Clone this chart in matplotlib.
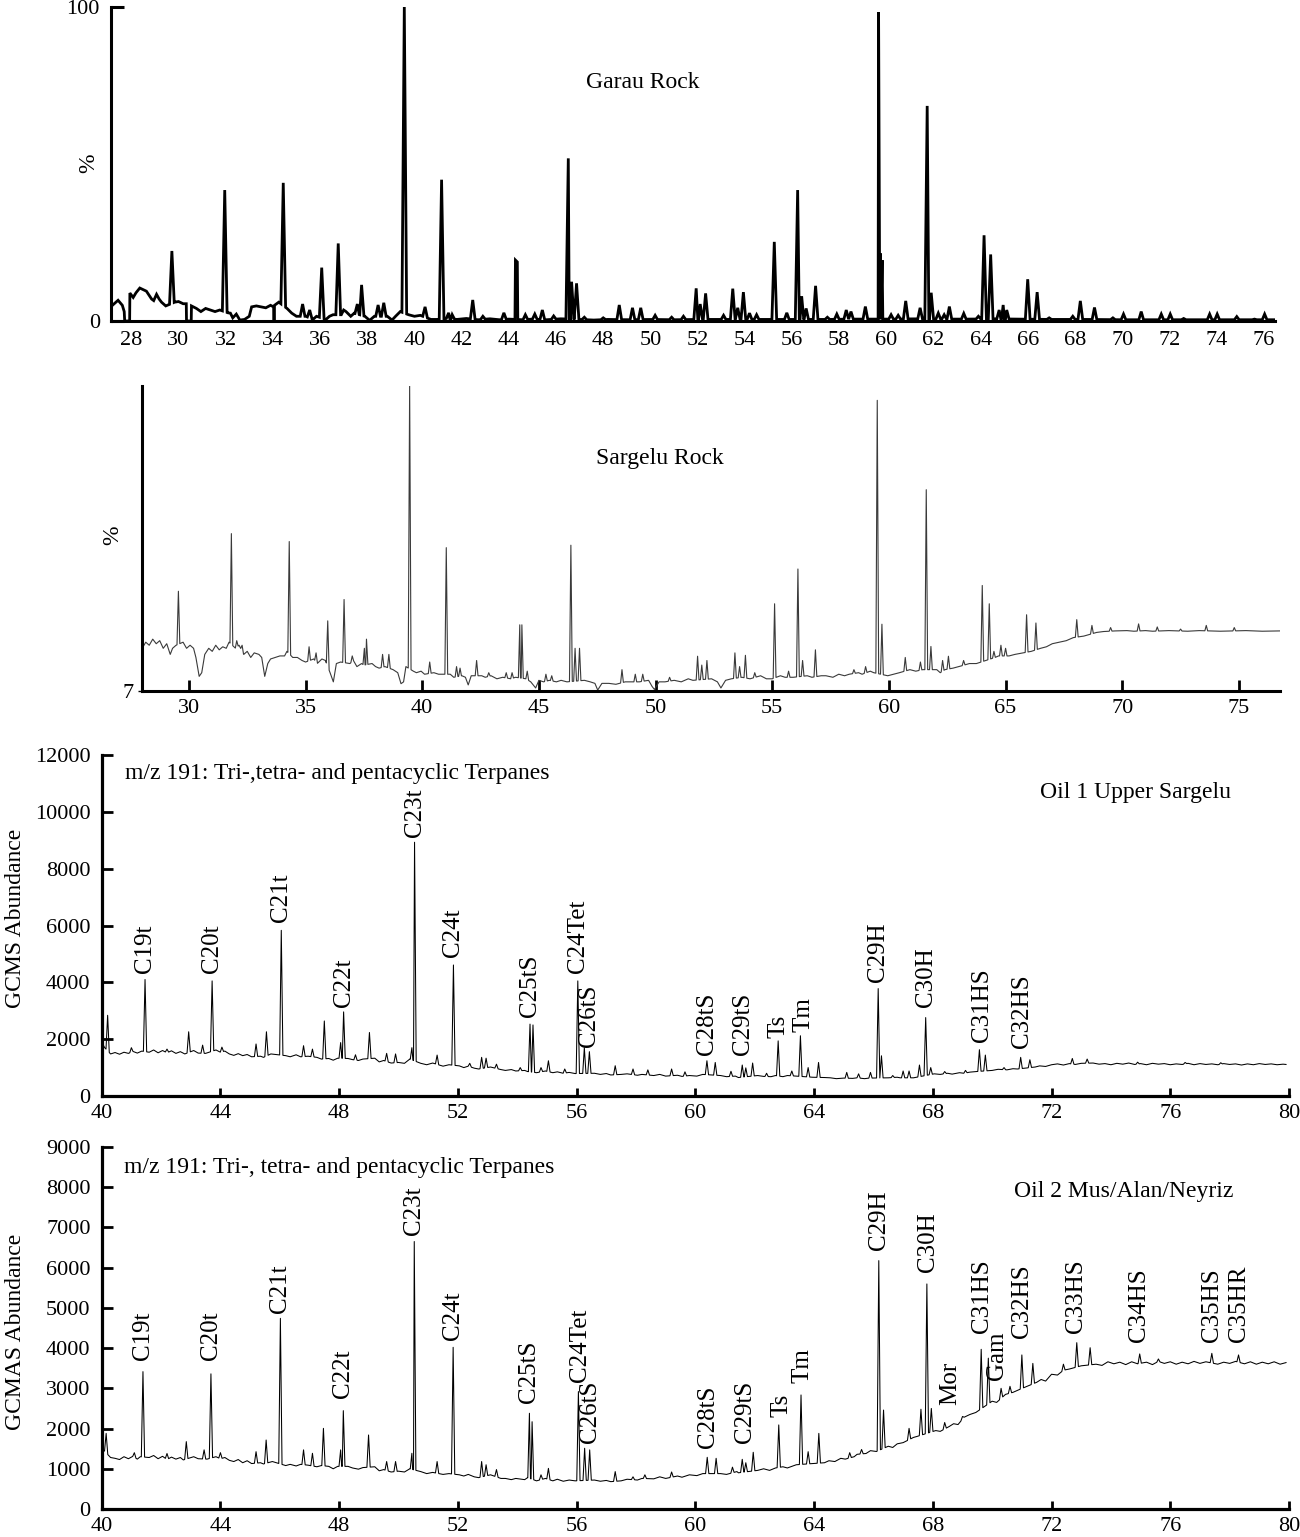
import numpy as np
import matplotlib
matplotlib.use("Agg")
import matplotlib.pyplot as plt

plt.rcParams['font.family'] = ['Liberation Serif', 'DejaVu Serif']
plt.rcParams['font.size'] = 16

# ---------------- Panel 1 : Garau Rock (relative %) ----------------
garau_base = [(27.14, 4.5), (27.2, 5), (27.44, 6.6), (27.62, 5), (27.7, 3), (27.72, 0), (27.93, 0),
              (27.94, 8.9), (28.08, 7.5), (28.2, 9), (28.36, 10.5), (28.5, 10), (28.64, 9.5), (28.86, 7),
              (28.95, 6.5), (29.07, 8.5), (29.18, 7), (29.28, 6), (29.46, 4.8), (29.84, 6), (30.0, 6.2),
              (30.2, 5.5), (30.33, 5.5), (30.34, 0), (30.54, 0), (30.55, 4.8), (30.76, 4), (30.95, 3),
              (31.15, 4), (31.35, 3.5), (31.55, 3), (31.75, 3.5), (32.1, 2.6), (32.3, 1.0), (32.45, 2.2),
              (32.6, 0.3), (32.8, 0.5), (33.0, 1.5), (33.1, 4.5), (33.3, 4.8), (33.5, 4.5), (33.7, 4.2),
              (33.9, 5), (34.03, 4.5), (34.05, 0.3), (34.07, 5), (34.25, 6), (34.6, 4), (34.8, 2.5),
              (35.0, 1.5), (35.4, 1.5), (35.7, 0.5), (35.85, 1.5), (36.25, 0.5), (36.4, 1.5), (36.55, 2),
              (36.95, 2), (37.1, 3), (37.3, 1.5), (37.45, 2.5), (37.9, 1.5), (38.1, 0.2), (38.3, 1.5),
              (38.85, 1.5), (39.05, 0.3), (39.2, 1.5), (39.4, 3), (39.75, 2), (40.0, 1.5), (40.25, 1.8),
              (40.7, 0.5), (41.0, 0.5), (41.35, 0.8), (41.8, 0.5), (42.2, 0.8), (42.7, 0.4), (43.2, 0.7),
              (43.6, 0.4), (44.0, 0.6), (44.6, 0.4), (45.0, 0.6), (45.6, 0.4), (46.2, 0.7), (47.0, 0.5),
              (47.6, 0.3), (48.2, 0.5), (49.0, 0.4), (50.0, 0.5), (51.0, 0.4), (52.0, 0.5), (53.0, 0.5),
              (54.5, 0.5), (55.5, 0.5), (57.5, 0.5), (58.5, 0.6), (59.4, 0.6), (60.5, 0.6), (61.2, 0.7),
              (62.2, 0.6), (63.5, 0.6), (64.6, 0.7), (65.5, 0.6), (67.0, 0.5), (68.5, 0.5), (70.0, 0.4),
              (72.0, 0.4), (74.0, 0.4), (76.47, 0.4)]
garau_peaks = [(29.72, 22.3), (31.96, 41.7), (32.2, 2.5), (34.44, 44.0), (35.26, 5.4), (35.56, 3.5),
               (36.07, 17.0), (36.77, 24.7), (37.0, 3.5), (37.58, 5.4), (37.76, 11.5), (38.46, 5.1),
               (38.7, 5.8), (39.57, 100.0), (40.45, 4.5), (41.15, 45.0), (41.45, 2.6), (41.6, 2.0),
               (42.47, 6.7), (42.9, 1.5), (43.79, 2.6), (44.28, 19.4), (44.36, 18.8), (44.7, 2.0),
               (45.1, 2.2), (45.42, 3.5), (45.9, 1.6), (46.52, 51.8), (46.66, 12.5), (46.87, 12.0),
               (47.2, 1.2), (48.0, 1.0), (48.68, 5.1), (49.24, 4.2), (49.59, 4.2), (50.2, 1.8),
               (50.9, 1.2), (51.4, 1.5), (51.94, 10.4), (52.11, 5.4), (52.34, 8.8), (53.1, 1.8),
               (53.49, 10.3), (53.7, 4.2), (53.94, 9.2), (54.2, 2.5), (54.5, 2.0), (55.25, 25.2),
               (55.78, 2.6), (56.24, 41.7), (56.41, 7.9), (56.6, 4.0), (57.0, 11.2), (57.5, 1.2),
               (57.9, 2.2), (58.3, 3.5), (58.5, 3.0), (59.11, 4.6), (59.67, 98.3), (59.75, 21.5),
               (59.82, 19.4), (60.2, 2.0), (60.5, 1.8), (60.82, 6.4), (61.43, 4.2), (61.73, 68.5),
               (61.9, 9.0), (62.2, 2.5), (62.45, 2.0), (62.67, 4.6), (63.28, 2.4), (63.9, 1.5),
               (64.14, 27.3), (64.42, 21.2), (64.78, 3.5), (64.95, 5.1), (65.1, 3.5), (65.99, 13.3),
               (66.39, 9.2), (66.9, 1.0), (67.9, 1.5), (68.22, 6.4), (68.82, 4.3), (69.6, 1.0),
               (70.05, 2.2), (70.8, 3.0), (71.65, 2.2), (72.03, 2.2), (72.6, 0.8), (73.7, 2.2),
               (74.02, 2.2), (74.85, 1.4), (75.6, 0.6), (76.03, 2.2)]

# ---------------- Panel 2 : Sargelu Rock (relative %) ----------------
sargelu_base = [(28.0, 14), (28.15, 16), (28.3, 15), (28.45, 17), (28.6, 15.5), (28.75, 16.5), (28.9, 14),
                (29.05, 15.5), (29.2, 12), (29.3, 14), (29.45, 15), (29.75, 16), (29.9, 14), (30.05, 15),
                (30.2, 14), (30.3, 11), (30.44, 4.8), (30.55, 6), (30.68, 12), (30.85, 14), (31.0, 13),
                (31.15, 15), (31.3, 13.5), (31.45, 14.5), (31.6, 14), (31.72, 16), (32.0, 14),
                (32.15, 15), (32.35, 12), (32.5, 13), (32.65, 11), (32.8, 12.5), (33.0, 12), (33.12, 11),
                (33.25, 4.8), (33.38, 9), (33.5, 10.5), (33.7, 11), (33.9, 11.5), (34.1, 11.5),
                (34.2, 13), (34.45, 11), (34.65, 11), (34.85, 10), (35.0, 9.5), (35.35, 10.5),
                (35.5, 9), (35.7, 10.5), (35.85, 10), (36.05, 6), (36.19, 3), (36.32, 9), (36.5, 9.5),
                (36.9, 9), (37.05, 10), (37.2, 8), (37.4, 9), (37.5, 8.5), (37.85, 9), (38.0, 8),
                (38.15, 7.5), (38.4, 8), (38.75, 7), (38.95, 6), (39.09, 2.4), (39.2, 3), (39.3, 8),
                (39.62, 6.5), (39.75, 6), (39.95, 6.5), (40.1, 5.5), (40.5, 6), (40.7, 5.5),
                (40.9, 5.5), (41.2, 5.5), (41.35, 4.5), (41.7, 5), (41.85, 4.5), (41.97, 2),
                (42.1, 5), (42.55, 5), (42.7, 4.5), (42.95, 5), (43.2, 4), (43.45, 4.5), (43.8, 4),
                (44.0, 4.5), (44.45, 4), (44.65, 3), (44.86, 1), (45.0, 3.5), (45.2, 3), (45.45, 3.5),
                (45.75, 3), (45.95, 3.5), (46.2, 3), (46.95, 3.5), (47.2, 3), (47.4, 2.5), (47.52, 0.3),
                (47.7, 2.5), (48.0, 2.5), (48.3, 2.2), (48.7, 3), (49.0, 3), (49.3, 3), (49.7, 3.5),
                (49.85, 1.5), (49.95, 0.5), (50.15, 3), (50.4, 3), (50.8, 3.5), (51.1, 3), (51.4, 4),
                (51.6, 3.5), (52.4, 4), (52.65, 3), (52.8, 1), (53.0, 3.5), (53.25, 4), (53.7, 4.5),
                (54.05, 4), (54.5, 5), (54.75, 4), (55.0, 4), (55.35, 5), (55.55, 4.5), (55.9, 4.5),
                (56.5, 5), (56.7, 4.5), (57.1, 5), (57.3, 5), (57.6, 4.5), (57.85, 5.5), (58.1, 5),
                (58.3, 5.5), (58.7, 6), (58.85, 5.5), (59.2, 6.5), (59.35, 6), (59.95, 5), (60.2, 5.5),
                (60.45, 6), (60.9, 7), (61.15, 6.5), (61.45, 7), (62.05, 7), (62.2, 6), (62.4, 7),
                (62.75, 7.5), (63.0, 8), (63.45, 9), (63.75, 9), (64.55, 11), (64.7, 11.5), (65.15, 11.5),
                (65.4, 12), (65.75, 12.5), (66.1, 13), (66.5, 14), (66.75, 14.5), (67.0, 15.5),
                (67.3, 16), (67.6, 16.5), (67.9, 17.5), (68.35, 18), (68.9, 19.2), (69.2, 19.5),
                (69.7, 19.7), (70.2, 19.8), (70.5, 19.6), (71.0, 19.8), (71.3, 19.6), (72.0, 19.8),
                (72.8, 19.6), (73.3, 19.8), (74.2, 19.6), (75.3, 19.8), (76.0, 19.6), (76.76, 19.7)]
sargelu_peaks = [(29.55, 32.7), (31.82, 51.6), (32.05, 16.5), (32.28, 15), (34.3, 49.0), (35.15, 14.5),
                 (35.45, 12.5), (35.95, 23.0), (36.65, 30.0), (37.0, 11.5), (37.52, 14), (37.61, 17.0),
                 (38.3, 12.0), (38.57, 12.0), (39.46, 100.0), (40.32, 9.5), (41.03, 47.0), (41.47, 8.0),
                 (41.62, 7.5), (42.33, 10.0), (42.85, 6.0), (43.6, 6.0), (43.85, 6.0), (44.18, 21.7),
                 (44.27, 21.7), (44.5, 6.5), (45.3, 5.5), (45.55, 5.0), (46.37, 47.8), (46.55, 14.0),
                 (46.74, 14.0), (48.56, 7.0), (49.13, 5.5), (49.45, 5.5), (50.6, 4.5), (51.8, 11.4),
                 (51.98, 8.5), (52.2, 10.0), (53.4, 12.5), (53.6, 8.0), (53.85, 11.7), (54.25, 6.0),
                 (55.1, 28.6), (55.7, 6.5), (56.1, 40.0), (56.3, 10.0), (56.85, 13.5), (58.5, 7.0),
                 (59.0, 8.0), (59.5, 95.3), (59.7, 21.9), (60.7, 11.0), (61.35, 9.5), (61.6, 66.0),
                 (61.8, 14.6), (62.3, 10.0), (62.55, 11.4), (63.2, 10.0), (64.0, 34.6), (64.3, 28.6),
                 (64.5, 13.0), (64.8, 15.0), (65.0, 14.0), (65.9, 25.0), (66.3, 22.3), (68.05, 23.4),
                 (68.7, 21.5), (69.5, 20.8), (70.7, 22.0), (71.5, 21.0), (72.5, 20.3), (73.6, 21.5),
                 (74.8, 20.8)]

# ---------------- Panel 3 : Oil 1 Upper Sargelu (GCMS abundance) ----------------
oil1_base = [(40.0, 1900), (40.1, 1700), (40.3, 1480), (40.45, 1530), (40.6, 1470), (40.75, 1540),
             (40.9, 1500), (41.05, 1570), (41.2, 1510), (41.35, 1580), (41.6, 1540), (41.75, 1620),
             (41.9, 1520), (42.05, 1600), (42.2, 1520), (42.35, 1590), (42.5, 1500), (42.65, 1560),
             (42.8, 1480), (43.1, 1600), (43.25, 1510), (43.5, 1500), (43.85, 1620), (44.0, 1540),
             (44.15, 1580), (44.3, 1480), (44.45, 1430), (44.6, 1490), (44.75, 1420), (44.9, 1460),
             (45.05, 1380), (45.35, 1400), (45.45, 1360), (45.7, 1480), (46.2, 1420), (46.35, 1380),
             (46.55, 1450), (46.7, 1380), (46.95, 1400), (47.25, 1360), (47.4, 1300), (47.65, 1320),
             (47.8, 1260), (47.95, 1330), (48.3, 1320), (48.45, 1280), (48.65, 1250), (48.8, 1300),
             (49.2, 1330), (49.35, 1200), (49.5, 1250), (49.75, 1160), (50.0, 1180), (50.2, 1150),
             (50.38, 1300), (50.75, 1150), (50.95, 1100), (51.15, 1160), (51.5, 1050), (51.7, 1100),
             (52.05, 1060), (52.2, 1000), (52.35, 1050), (52.55, 980), (52.7, 950), (53.1, 1020),
             (53.45, 930), (53.6, 900), (53.8, 930), (53.95, 880), (54.25, 900), (54.35, 860),
             (54.65, 820), (54.95, 880), (55.2, 820), (55.35, 850), (55.55, 800), (55.75, 830),
             (55.95, 790), (56.6, 800), (56.8, 760), (57.0, 790), (57.15, 740), (57.5, 760),
             (57.7, 780), (58.05, 730), (58.2, 760), (58.6, 720), (58.8, 760), (59.0, 700),
             (59.4, 730), (59.55, 690), (59.8, 720), (60.05, 700), (60.25, 760), (60.85, 720),
             (61.05, 680), (61.35, 700), (61.45, 650), (62.1, 720), (62.3, 690), (62.55, 680),
             (62.7, 720), (62.95, 680), (63.1, 720), (63.4, 700), (63.95, 660), (64.35, 650),
             (64.55, 640), (64.75, 610), (65.0, 630), (65.3, 620), (65.45, 640), (65.7, 610),
             (65.85, 630), (66.5, 640), (66.8, 660), (66.9, 640), (67.35, 640), (67.45, 660),
             (68.05, 780), (68.25, 760), (68.5, 800), (68.65, 770), (68.9, 820), (69.05, 800),
             (69.25, 840), (69.45, 860), (70.0, 900), (70.2, 940), (70.5, 920), (70.7, 960),
             (70.85, 950), (71.45, 1020), (71.6, 1060), (71.8, 1040), (72.0, 1100), (72.2, 1130),
             (72.4, 1090), (72.6, 1140), (72.8, 1110), (73.0, 1150), (73.4, 1160), (73.6, 1120),
             (73.8, 1140), (74.0, 1100), (74.2, 1150), (74.4, 1120), (74.6, 1160), (74.8, 1110),
             (75.0, 1140), (75.2, 1100), (75.4, 1150), (75.6, 1120), (75.8, 1140), (76.0, 1100),
             (76.2, 1130), (76.4, 1110), (76.6, 1150), (76.8, 1100), (77.0, 1140), (77.2, 1110),
             (77.4, 1130), (77.6, 1100), (77.8, 1140), (78.0, 1110), (78.2, 1130), (78.4, 1090),
             (78.6, 1130), (78.8, 1100), (79.0, 1140), (79.2, 1110), (79.4, 1130), (79.6, 1100),
             (79.8, 1120), (79.9, 1110)]
oil1_peaks = [(40.2, 2840), (41.0, 1700), (41.46, 4100), (42.2, 1650), (42.93, 2260), (43.4, 1790),
              (43.72, 4050), (44.05, 1720), (45.2, 1830), (45.55, 2260), (46.05, 5830), (46.8, 1770),
              (47.1, 1650), (47.5, 2640), (48.05, 1880), (48.15, 2960), (48.55, 1450), (49.02, 2235),
              (49.6, 1500), (49.9, 1480), (50.45, 1700), (50.54, 8930), (51.3, 1440), (51.85, 4610),
              (52.4, 1150), (52.8, 1360), (52.95, 1330), (53.3, 1120), (54.1, 1000), (54.43, 2530),
              (54.53, 2500), (54.8, 1000), (55.05, 1240), (55.6, 950), (56.04, 4050), (56.26, 1700),
              (56.43, 1560), (57.3, 1065), (57.9, 950), (58.4, 920), (59.2, 950), (59.65, 850),
              (60.39, 1240), (60.67, 1180), (61.2, 870), (61.58, 1090), (61.7, 990), (61.93, 1160),
              (62.4, 800), (62.79, 1940), (63.25, 880), (63.54, 2120), (63.8, 1000), (64.15, 1180),
              (65.1, 830), (65.5, 780), (65.9, 830), (66.16, 3780), (66.27, 1415), (66.65, 720),
              (67.0, 880), (67.2, 880), (67.55, 1090), (67.76, 2760), (67.93, 1000), (68.4, 860),
              (69.1, 900), (69.57, 1630), (69.77, 1440), (70.4, 1000), (70.96, 1360), (71.27, 1275),
              (72.7, 1320), (73.2, 1300), (74.9, 1190), (76.5, 1180), (77.7, 1170)]

# ---------------- Panel 4 : Oil 2 Mus/Alan/Neyriz (GCMAS abundance) ----------------
oil2_base = [(40.0, 1500), (40.08, 1450), (40.3, 1280), (40.45, 1260), (40.6, 1230), (40.75, 1300),
             (40.9, 1250), (41.05, 1310), (41.2, 1240), (41.3, 1300), (41.6, 1280), (41.75, 1330),
             (41.9, 1250), (42.05, 1310), (42.2, 1230), (42.35, 1290), (42.5, 1240), (42.65, 1280),
             (42.75, 1220), (43.1, 1300), (43.25, 1250), (43.55, 1240), (43.85, 1300), (44.0, 1250),
             (44.15, 1280), (44.3, 1210), (44.45, 1180), (44.6, 1230), (44.75, 1150), (44.9, 1200),
             (45.05, 1130), (45.35, 1150), (45.45, 1120), (45.75, 1180), (46.2, 1080), (46.35, 1110),
             (46.55, 1070), (46.7, 1110), (46.95, 1090), (47.25, 1050), (47.4, 1080), (47.65, 1060),
             (47.8, 1000), (47.95, 1060), (48.3, 1060), (48.45, 1020), (48.65, 990), (48.8, 1030),
             (49.2, 1050), (49.35, 950), (49.5, 980), (49.75, 920), (50.0, 940), (50.2, 920),
             (50.38, 1000), (50.75, 930), (50.95, 880), (51.15, 910), (51.5, 860), (51.7, 880),
             (52.05, 850), (52.2, 820), (52.35, 860), (52.55, 800), (52.7, 780), (53.1, 850),
             (53.45, 760), (53.6, 760), (53.8, 730), (53.95, 760), (54.25, 730), (54.35, 780),
             (54.65, 700), (54.95, 760), (55.2, 700), (55.35, 740), (55.55, 690), (55.75, 720),
             (55.95, 700), (56.6, 720), (56.8, 690), (57.0, 710), (57.15, 680), (57.5, 700),
             (57.7, 740), (58.05, 720), (58.2, 760), (58.6, 750), (58.8, 800), (59.0, 760),
             (59.4, 820), (59.55, 790), (59.8, 850), (60.05, 830), (60.25, 880), (60.85, 880),
             (61.05, 860), (61.4, 930), (61.45, 900), (62.1, 960), (62.3, 1000), (62.5, 960),
             (62.7, 1020), (62.95, 1050), (63.1, 1020), (63.4, 1100), (63.95, 1130), (64.35, 1150),
             (64.5, 1200), (64.7, 1180), (64.9, 1260), (65.05, 1240), (65.35, 1300), (65.45, 1360),
             (65.75, 1380), (65.9, 1450), (66.1, 1430), (66.5, 1560), (66.65, 1530), (66.8, 1620),
             (67.0, 1650), (67.35, 1780), (67.45, 1800), (68.1, 1950), (68.25, 1930), (68.55, 2050),
             (68.7, 2120), (68.85, 2100), (69.05, 2280), (69.25, 2350), (69.45, 2400), (70.0, 2680),
             (70.15, 2650), (70.45, 2850), (70.7, 2900), (70.85, 2950), (71.5, 3150), (71.65, 3220),
             (71.8, 3180), (72.0, 3350), (72.2, 3330), (72.4, 3450), (72.6, 3480), (73.0, 3560),
             (73.5, 3600), (73.7, 3570), (73.9, 3660), (74.1, 3610), (74.3, 3650), (74.5, 3590),
             (74.7, 3660), (74.9, 3610), (75.2, 3650), (75.4, 3590), (75.6, 3670), (75.8, 3620),
             (76.0, 3660), (76.2, 3600), (76.4, 3650), (76.6, 3610), (76.8, 3670), (77.0, 3620),
             (77.2, 3660), (77.6, 3600), (77.8, 3650), (78.0, 3620), (78.2, 3670), (78.5, 3610),
             (78.7, 3660), (78.9, 3600), (79.1, 3650), (79.3, 3610), (79.5, 3660), (79.7, 3600),
             (79.9, 3640)]
oil2_peaks = [(40.15, 1880), (41.1, 1400), (41.39, 3415), (42.2, 1380), (42.85, 1675), (43.45, 1470),
              (43.68, 3360), (44.0, 1400), (45.2, 1425), (45.54, 1715), (46.02, 4740), (46.8, 1470),
              (47.1, 1385), (47.47, 2005), (48.05, 1470), (48.14, 2445), (48.99, 1840), (49.6, 1180),
              (49.9, 1180), (50.45, 1385), (50.53, 6650), (51.3, 1180), (51.84, 4020), (52.8, 1180),
              (52.95, 1100), (53.3, 980), (54.41, 2380), (54.5, 2170), (54.8, 850), (55.05, 1010),
              (56.06, 2920), (56.27, 1510), (56.44, 1470), (57.3, 930), (57.9, 800), (58.3, 850),
              (59.2, 920), (60.4, 1285), (60.7, 1260), (61.25, 1040), (61.58, 1235), (61.7, 1150),
              (61.95, 1410), (62.81, 2090), (63.56, 2835), (63.8, 1425), (64.16, 1880), (65.2, 1400),
              (65.6, 1480), (66.18, 6175), (66.34, 2460), (67.2, 2005), (67.6, 2480), (67.8, 5595),
              (67.95, 2500), (68.4, 2150), (69.0, 2300), (69.63, 3970), (69.87, 3750), (70.3, 3000),
              (70.6, 3050), (71.0, 3830), (71.37, 3620), (72.4, 3600), (72.85, 4135), (73.3, 4010),
              (74.97, 3855), (75.6, 3730), (77.4, 3870), (78.3, 3830)]

# ---------------- peak annotations (label, x, bottom of text in data units) ----------------
oil1_labels = [("C19t", 41.46, 4330), ("C20t", 43.72, 4330), ("C21t", 46.05, 6120), ("C22t", 48.15, 3130),
               ("C23t", 50.54, 9110), ("C24t", 51.85, 4890), ("C25tS", 54.43, 2780), ("C24Tet", 56.04, 4330),
               ("C26tS", 56.43, 1725), ("C28tS", 60.39, 1440), ("C29tS", 61.6, 1440), ("Ts", 62.79, 2040),
               ("Tm", 63.65, 2250), ("C29H", 66.16, 4010), ("C30H", 67.76, 3130), ("C31HS", 69.66, 1900),
               ("C32HS", 71.0, 1690)]
oil2_labels = [("C19t", 41.39, 3705), ("C20t", 43.68, 3705), ("C21t", 46.02, 4870), ("C22t", 48.14, 2760),
               ("C23t", 50.53, 6810), ("C24t", 51.84, 4200), ("C25tS", 54.41, 2635), ("C24Tet", 56.12, 3160),
               ("C26tS", 56.44, 1640), ("C28tS", 60.42, 1515), ("C29tS", 61.67, 1640), ("Ts", 62.89, 2290),
               ("Tm", 63.6, 3130), ("C29H", 66.18, 6440), ("C30H", 67.84, 5890), ("Mor", 68.57, 2585),
               ("C31HS", 69.66, 4375), ("Gam", 70.17, 3205), ("C32HS", 71.0, 4250), ("C33HS", 72.83, 4375),
               ("C34HS", 74.95, 4150), ("C35HS", 77.4, 4150), ("C35HR", 78.3, 4150)]

garau_xticks = list(range(28, 77, 2))
sargelu_xticks = [30, 35, 40, 45, 50, 55, 60, 65, 70, 75]
oil_xticks = list(range(40, 81, 4))
oil1_yticks = list(range(0, 12001, 2000))
oil2_yticks = list(range(0, 9001, 1000))


def build_trace(base, peaks, hw):
    bt = np.array([b[0] for b in base], float)
    bv = np.array([b[1] for b in base], float)
    pt = np.array([p[0] for p in peaks], float)
    pv = np.array([p[1] for p in peaks], float)
    keep = np.ones(len(bt), bool)
    for p in pt:
        keep &= np.abs(bt - p) >= hw
    t = list(bt[keep])
    v = list(bv[keep])
    for p, h in zip(pt, pv):
        for s in (p - hw, p + hw):
            t.append(s)
            v.append(np.interp(s, bt, bv))
        t.append(p)
        v.append(h)
    t = np.array(t)
    v = np.array(v)
    o = np.argsort(t, kind="stable")
    return t[o], v[o]


W, H = 1300, 1537
fig = plt.figure(figsize=(W / 100, H / 100), dpi=100)


def px_axes(left, right, top, bottom):
    return fig.add_axes([left / W, 1 - bottom / H, (right - left) / W, (bottom - top) / H])


def style(ax, lw=2.2):
    for s in ("top", "right"):
        ax.spines[s].set_visible(False)
    for s in ("left", "bottom"):
        ax.spines[s].set_linewidth(lw)
    ax.patch.set_alpha(0)


TXT = 17
LAB = 18

# ---- Panel 1
ax1 = px_axes(111, 1275, 7, 321)
t, v = build_trace(garau_base, garau_peaks, 0.1)
ax1.plot(t, v, color="black", lw=2.0, solid_joinstyle="miter")
ax1.set_xlim(27.14, 76.47)
ax1.set_ylim(0, 100)
style(ax1)
ax1.set_xticks(garau_xticks)
ax1.set_yticks([0, 100])
ax1.tick_params(axis="x", length=0, pad=7, labelsize=16)
ax1.tick_params(axis="y", direction="in", length=9, width=2.2, pad=8, labelsize=16)
ax1.text(0.457, 0.758, "Garau Rock", transform=ax1.transAxes, ha="center", va="center", fontsize=TXT)
ax1.text(-0.0195, 0.503, "%", transform=ax1.transAxes, ha="center", va="center", rotation=90, fontsize=TXT)

# ---- Panel 2
ax2 = px_axes(142, 1280, 386, 691)
t, v = build_trace(sargelu_base, sargelu_peaks, 0.06)
ax2.plot(t, v, color="#3a3a3a", lw=0.8)
ax2.set_xlim(27.99, 76.76)
ax2.set_ylim(0, 100)
style(ax2)
ax2.set_xticks(sargelu_xticks)
ax2.set_yticks([0])
ax2.set_yticklabels(["7"])
ax2.tick_params(axis="x", direction="in", length=8, width=2, pad=6, labelsize=16)
ax2.tick_params(axis="y", direction="out", length=3, width=1, pad=3, labelsize=16)
ax2.text(0.455, 0.761, "Sargelu Rock", transform=ax2.transAxes, ha="center", va="center", fontsize=TXT)
ax2.text(-0.0255, 0.511, "%", transform=ax2.transAxes, ha="center", va="center", rotation=90, fontsize=TXT)


def oil_panel(ax, base, peaks, labels, yticks, ymax, title, name, ylabel, pos):
    t, v = build_trace(base, peaks, 0.055)
    ax.plot(t, v, color="black", lw=0.75)
    ax.set_xlim(40, 80)
    ax.set_ylim(0, ymax)
    style(ax, 2.3)
    ax.set_xticks(oil_xticks)
    ax.set_yticks(yticks)
    ax.tick_params(axis="x", direction="in", length=6, width=2, pad=6, labelsize=16)
    ax.tick_params(axis="y", direction="in", length=8, width=2, pad=8, labelsize=16)
    for lab, x, y in labels:
        ax.text(x, y, lab, rotation=90, ha="center", va="bottom", fontsize=LAB)
    ax.text(pos[0], pos[1], title, transform=ax.transAxes, ha="left", va="center", fontsize=TXT)
    ax.text(pos[2], pos[3], name, transform=ax.transAxes, ha="left", va="center", fontsize=TXT)
    ax.text(pos[4], pos[5], ylabel, transform=ax.transAxes, ha="center", va="center",
            rotation=90, fontsize=TXT)


ax3 = px_axes(101.7, 1289, 755, 1096)
oil_panel(ax3, oil1_base, oil1_peaks, oil1_labels, oil1_yticks, 12000,
          "m/z 191: Tri-,tetra- and pentacyclic Terpanes", "Oil 1 Upper Sargelu",
          "GCMS Abundance", (0.0196, 0.947, 0.790, 0.889, -0.0725, 0.522))

ax4 = px_axes(101.7, 1289, 1147, 1509)
oil_panel(ax4, oil2_base, oil2_peaks, oil2_labels, oil2_yticks, 9000,
          "m/z 191: Tri-, tetra- and pentacyclic Terpanes", "Oil 2 Mus/Alan/Neyriz",
          "GCMAS Abundance", (0.0188, 0.942, 0.768, 0.876, -0.0725, 0.489))

fig.savefig("out.png", dpi=100)
